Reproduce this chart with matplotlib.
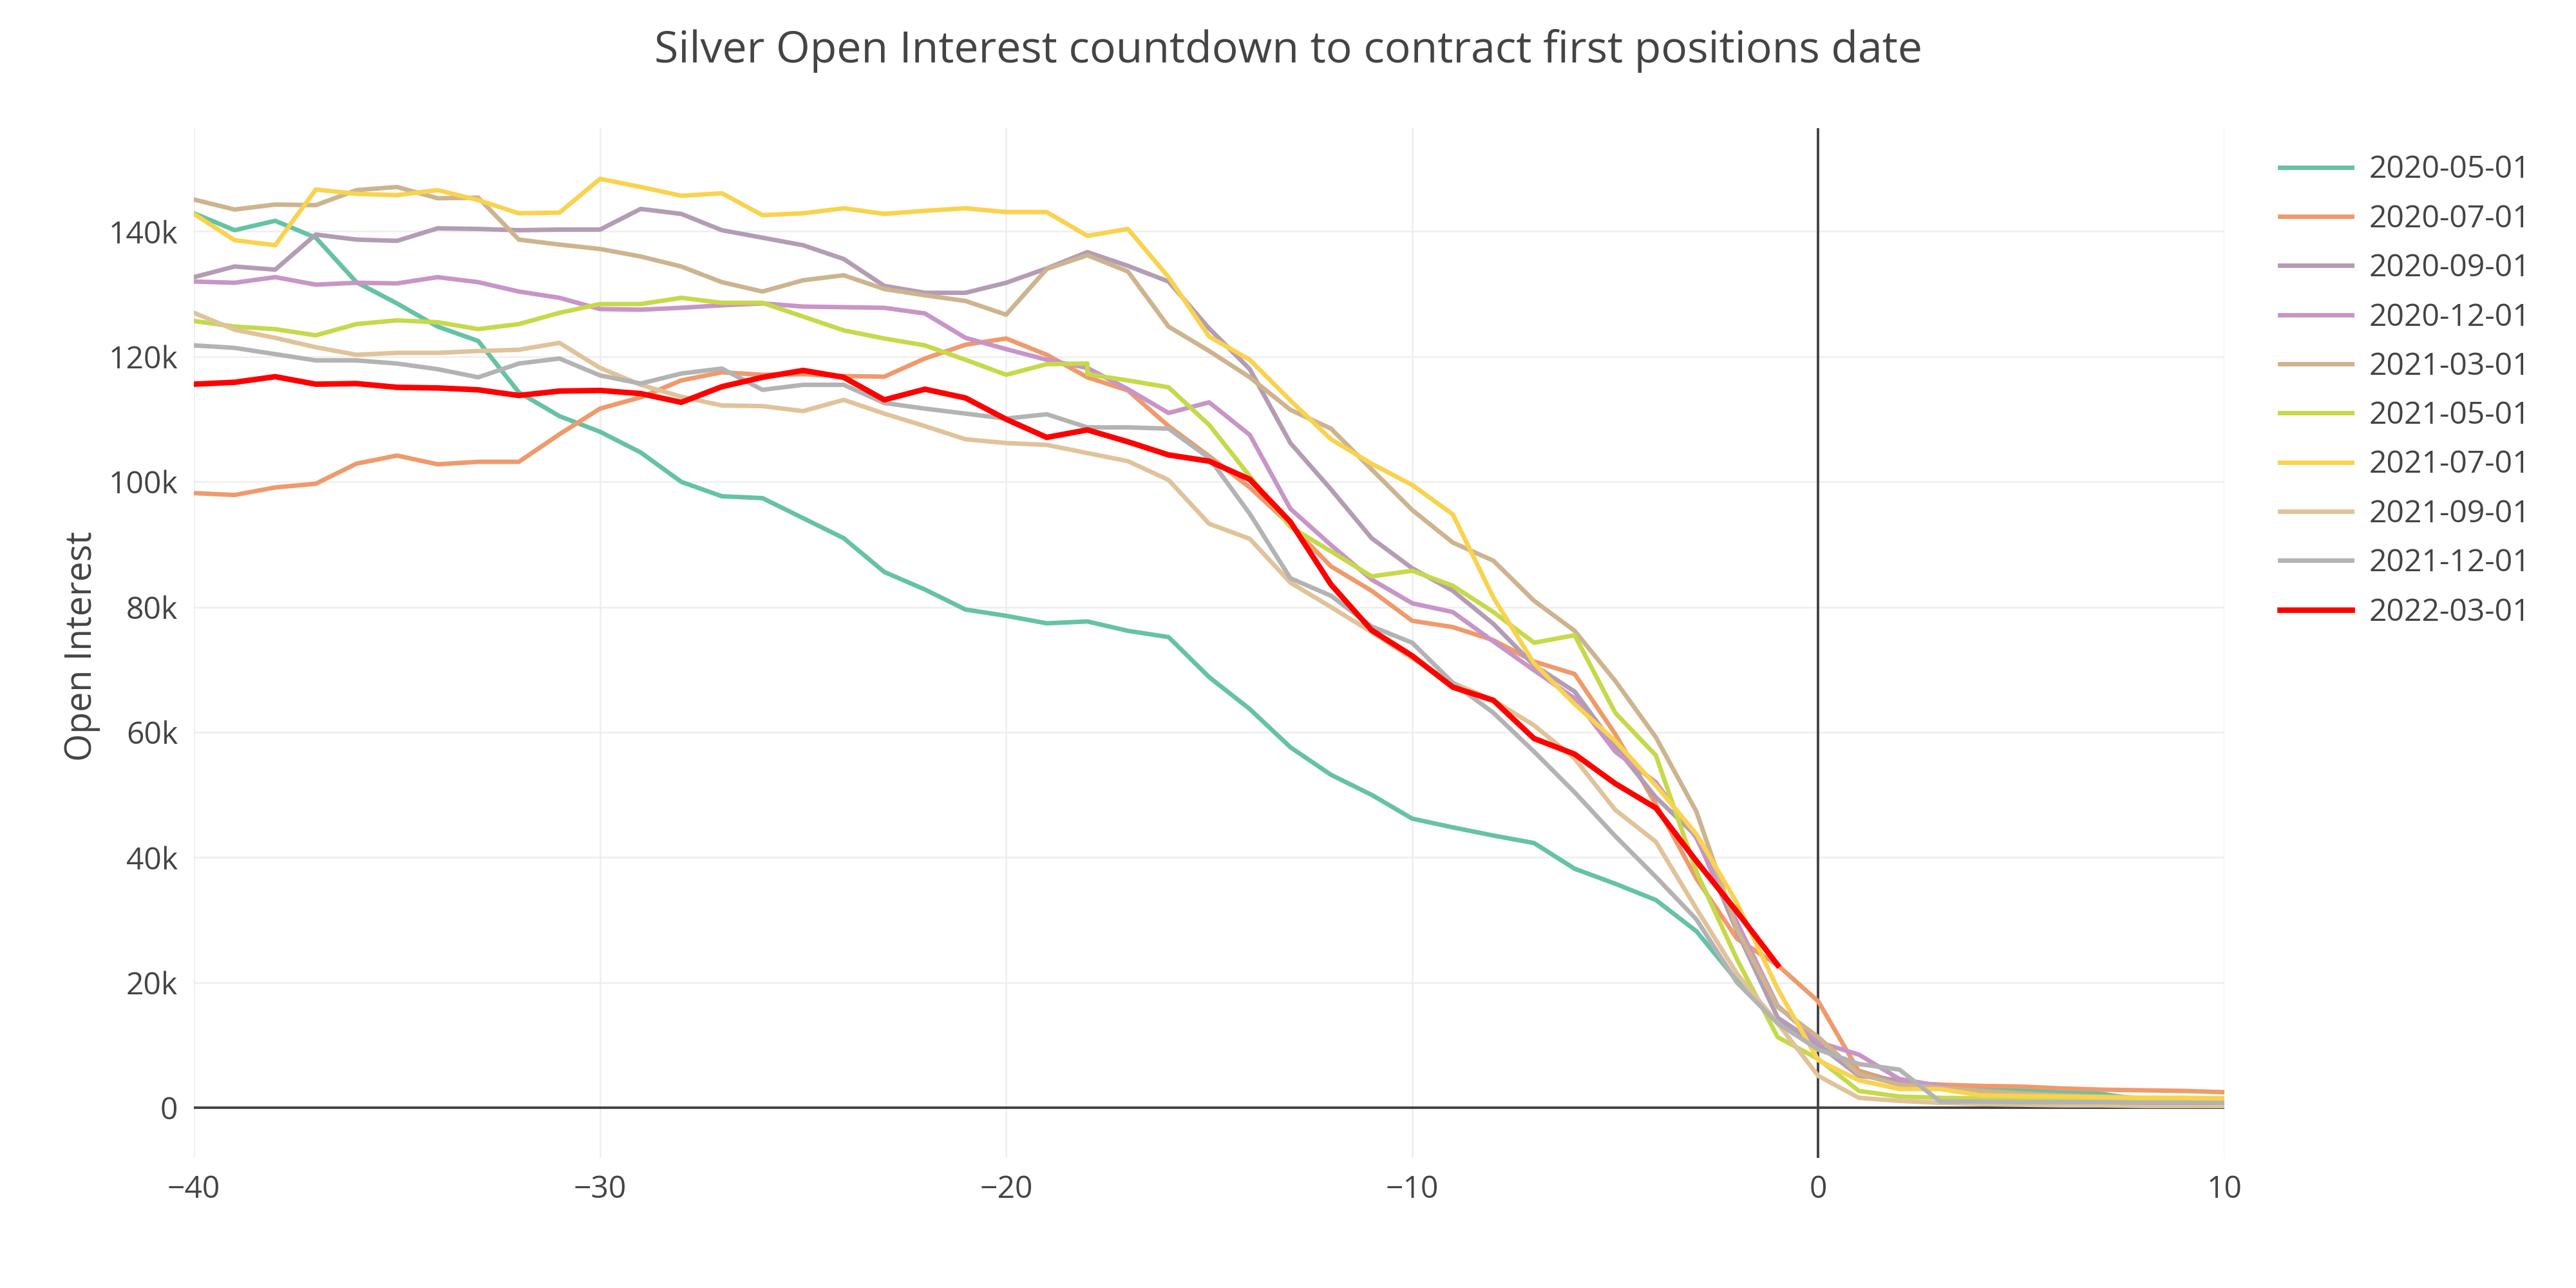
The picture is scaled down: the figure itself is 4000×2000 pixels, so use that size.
import numpy as np
import matplotlib
matplotlib.use("Agg")
import matplotlib.pyplot as plt
from matplotlib.ticker import FuncFormatter

plt.rcParams['font.family'] = ['Open Sans', 'DejaVu Sans']

# days relative to first positions date
days = np.arange(-40, 11)
days_red = np.arange(-40, 0)
days_lime = np.concatenate([np.arange(-40, -17), np.arange(-18, 11)])  # -18 appears twice

# open interest, thousands of contracts
oi_2020_05 = [142.9, 140.2, 141.7, 139.0, 131.9, 128.5, 124.8, 122.5, 114.3, 110.5, 108.0,
              104.7, 100.0, 97.7, 97.4, 94.2, 91.0, 85.6, 82.8, 79.6, 78.6,
              77.4, 77.7, 76.2, 75.2, 68.8, 63.7, 57.6, 53.2, 50.0, 46.2,
              44.8, 43.5, 42.3, 38.2, 35.8, 33.2, 28.2, 20.3, 13.5, 10.0,
              5.9, 4.0, 3.7, 3.0, 2.8, 2.6, 2.2, 1.3, 1.2, 1.2]
oi_2020_07 = [98.2, 97.9, 99.1, 99.7, 102.9, 104.2, 102.8, 103.2, 103.2, 107.6, 111.7,
              113.5, 116.2, 117.5, 117.1, 117.2, 116.9, 116.8, 119.7, 121.9, 122.9,
              120.3, 116.7, 114.6, 108.9, 104.1, 99.1, 93.1, 86.5, 82.6, 77.8,
              76.8, 74.7, 71.3, 69.3, 59.7, 48.5, 36.6, 27.0, 22.8, 17.0,
              5.8, 4.0, 3.7, 3.5, 3.4, 3.1, 2.9, 2.8, 2.7, 2.5]
oi_2020_09 = [132.7, 134.4, 133.9, 139.5, 138.7, 138.5, 140.5, 140.4, 140.2, 140.3, 140.3,
              143.6, 142.8, 140.2, 139.0, 137.8, 135.6, 131.3, 130.2, 130.2, 131.8,
              134.1, 136.7, 134.5, 132.0, 124.5, 118.0, 106.2, 98.8, 91.0, 86.2,
              82.6, 77.3, 70.7, 66.5, 57.7, 49.6, 43.4, 28.2, 14.4, 10.1,
              5.1, 4.4, 3.4, 2.3, 1.8, 1.5, 1.3, 1.2, 1.2, 1.2]
oi_2020_12 = [132.0, 131.8, 132.7, 131.5, 131.8, 131.7, 132.7, 131.9, 130.4, 129.4, 127.6,
              127.5, 127.8, 128.2, 128.5, 128.0, 127.9, 127.8, 126.9, 123.0, 121.2,
              119.5, 118.2, 114.8, 111.0, 112.7, 107.5, 95.7, 89.9, 84.4, 80.6,
              79.2, 74.5, 69.9, 65.4, 56.9, 52.0, 43.1, 29.6, 16.3, 10.5,
              8.5, 4.6, 3.5, 2.2, 1.8, 1.6, 1.5, 1.4, 1.3, 1.3]
oi_2021_03 = [145.1, 143.5, 144.3, 144.2, 146.6, 147.1, 145.3, 145.4, 138.7, 137.9, 137.2,
              136.0, 134.4, 131.9, 130.4, 132.2, 133.0, 130.8, 129.8, 128.9, 126.7,
              134.0, 136.2, 133.6, 124.8, 120.9, 116.7, 111.5, 108.5, 102.0, 95.5,
              90.3, 87.4, 81.0, 76.2, 68.2, 59.2, 47.3, 28.5, 16.1, 11.3,
              5.4, 3.7, 3.2, 2.7, 2.3, 2.0, 1.8, 1.6, 1.5, 1.5]
oi_2021_05 = [125.7, 124.8, 124.4, 123.4, 125.2, 125.8, 125.5, 124.4, 125.2, 127.0, 128.4,
              128.4, 129.4, 128.6, 128.6, 126.4, 124.2, 122.9, 121.8, 119.5, 117.1,
              118.8, 118.9, 117.2, 116.2, 115.1, 109.1, 100.9, 92.8, 88.9, 84.9, 85.8,
              83.4, 79.2, 74.3, 75.5, 63.1, 56.3, 37.7, 23.7, 11.3, 7.8,
              2.7, 1.8, 1.6, 1.5, 1.4, 1.3, 1.3, 1.2, 1.2, 1.2]
oi_2021_07 = [142.8, 138.6, 137.8, 146.7, 146.0, 145.8, 146.6, 145.0, 142.9, 143.0, 148.4,
              147.1, 145.7, 146.1, 142.6, 142.9, 143.7, 142.8, 143.3, 143.7, 143.1,
              143.1, 139.3, 140.4, 132.7, 123.2, 119.5, 113.0, 106.8, 102.9, 99.5,
              94.8, 81.5, 71.0, 64.5, 58.6, 51.5, 43.7, 32.7, 19.0, 7.6,
              4.4, 3.0, 3.0, 2.0, 1.9, 1.8, 1.7, 1.6, 1.6, 1.5]
oi_2021_09 = [127.0, 124.3, 123.0, 121.5, 120.3, 120.6, 120.6, 120.9, 121.1, 122.2, 118.2,
              115.5, 113.6, 112.2, 112.1, 111.3, 113.1, 110.9, 108.9, 106.8, 106.2,
              105.9, 104.6, 103.3, 100.3, 93.3, 90.9, 83.9, 80.0, 76.0, 71.8,
              67.9, 65.1, 61.1, 55.8, 47.6, 42.5, 31.8, 21.4, 13.5, 5.1,
              1.6, 1.1, 0.8, 0.6, 0.5, 0.4, 0.4, 0.3, 0.3, 0.3]
oi_2021_12 = [121.8, 121.4, 120.4, 119.4, 119.4, 118.9, 118.0, 116.7, 118.9, 119.7, 117.0,
              115.7, 117.3, 118.1, 114.7, 115.5, 115.5, 112.6, 111.7, 110.9, 110.1,
              110.8, 108.7, 108.7, 108.5, 103.8, 94.9, 84.6, 81.8, 76.9, 74.3,
              67.9, 63.1, 56.9, 50.4, 43.4, 36.9, 30.1, 20.0, 13.5, 9.3,
              7.0, 6.1, 1.0, 1.0, 0.9, 0.9, 0.9, 0.8, 0.8, 0.8]
oi_2022_03 = [115.6, 115.9, 116.8, 115.6, 115.7, 115.1, 115.0, 114.7, 113.8, 114.5, 114.6,
              114.1, 112.7, 115.2, 116.7, 117.8, 116.7, 113.1, 114.8, 113.4, 110.0,
              107.1, 108.3, 106.4, 104.3, 103.3, 100.4, 93.6, 83.6, 76.3, 72.2,
              67.2, 65.1, 59.0, 56.5, 51.8, 47.9, 39.4, 31.3, 22.8]

contracts = ['2020-05-01', '2020-07-01', '2020-09-01', '2020-12-01', '2021-03-01',
             '2021-05-01', '2021-07-01', '2021-09-01', '2021-12-01', '2022-03-01']
series = [oi_2020_05, oi_2020_07, oi_2020_09, oi_2020_12, oi_2021_03,
          oi_2021_05, oi_2021_07, oi_2021_09, oi_2021_12, oi_2022_03]
xs = [days, days, days, days, days, days_lime, days, days, days, days_red]
colors = ['#66c2a5', '#ef9a6c', '#b39cb4', '#c895c8', '#cdb48f',
          '#c6d94a', '#f9d34e', '#e0c39a', '#b3b3b3', '#ff0000']

text_col = '#444444'

fig = plt.figure(figsize=(20, 10), dpi=200)
ax = fig.add_axes([0.0753, 0.101, 0.7882, 0.7995])

for name, x, y, c in zip(contracts, xs, series, colors):
    lw = 3.1 if c == '#ff0000' else 2.5
    ax.plot(x, np.array(y) * 1000, color=c, lw=lw, label=name, zorder=3,
            solid_joinstyle='round')

ax.set_xlim(-40, 10)
ax.set_ylim(-8000, 156500)
ax.set_xticks([-40, -30, -20, -10, 0, 10])
ax.set_yticks(np.arange(0, 140001, 20000))
ax.yaxis.set_major_formatter(FuncFormatter(lambda v, p: '0' if v == 0 else '%dk' % (v / 1000)))
ax.grid(True, color='#eeeeee', lw=0.9, zorder=0)
ax.axhline(0, color=text_col, lw=1.4, zorder=2)
ax.axvline(0, color=text_col, lw=1.4, zorder=2)
for s in ax.spines.values():
    s.set_visible(False)
ax.tick_params(length=0, pad=9, labelsize=17.3, colors=text_col)

fig.text(128 / 4000, 0.4985, 'Open Interest', rotation=90, ha='center', va='center',
         fontsize=20, color=text_col)
fig.text(0.5, 0.9605, 'Silver Open Interest countdown to contract first positions date',
         ha='center', va='center', fontsize=24.5, color=text_col)

ax.legend(loc='upper left', bbox_to_anchor=(0.885, 0.88), bbox_transform=fig.transFigure,
          frameon=False, fontsize=17.3, handlelength=2.33, handletextpad=0.56,
          labelspacing=0.6, borderpad=0, borderaxespad=0, labelcolor=text_col)

fig.savefig('out.png', dpi=200)
